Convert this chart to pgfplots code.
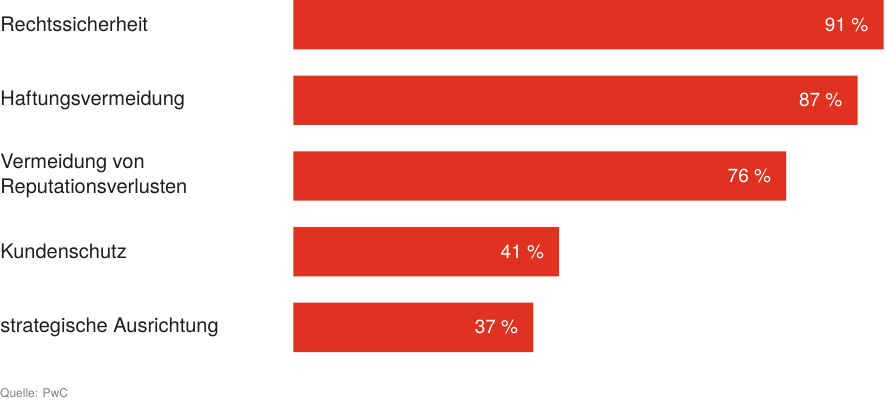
\documentclass[border=0pt]{standalone}
\usepackage{fontspec}
\setmainfont{TeX Gyre Heros}
\usepackage{pgfplots}
\pgfplotsset{compat=1.18}
\definecolor{barred}{HTML}{E03220}
\definecolor{txt}{HTML}{1D1D1B}

\begin{document}
\begin{tikzpicture}
\path[use as bounding box] (0,0) rectangle (885pt,-400pt);
\begin{axis}[
    at={(293.3pt,0pt)}, anchor=north west,
    scale only axis,
    width=590.2pt, height=352pt,
    xbar, bar width=49.3pt, bar shift=0pt,
    xmin=0, xmax=91,
    ymin=-0.3255, ymax=4.3255,
    y dir=reverse,
    axis line style={draw=none},
    tick style={draw=none},
    xtick=\empty,
    ytick={0,1,2,3,4},
    yticklabels={Rechtssicherheit, Haftungsvermeidung, {Vermeidung von\\Reputationsverlusten}, Kundenschutz, strategische Ausrichtung},
    yticklabel style={anchor=west, align=left, inner sep=0pt, xshift=-288.8pt,
        font=\fontsize{20}{25}\selectfont, text=txt},
    /pgf/number format/assume math mode=true,
    nodes near coords={\pgfmathprintnumber{\pgfplotspointmeta}~\%},
    every node near coord/.append style={anchor=east, inner sep=0pt, xshift=-15pt,
        text=white, font=\fontsize{19}{22}\selectfont},
]
\addplot[draw=none, fill=barred] coordinates {(91,0) (87,1) (76,2) (41,3) (37,4)};
\end{axis}
\node[anchor=base west, inner sep=0pt, text=gray, font=\fontsize{12}{14}\selectfont] at (0pt,-397pt) {Quelle: PwC};
\end{tikzpicture}
\end{document}
